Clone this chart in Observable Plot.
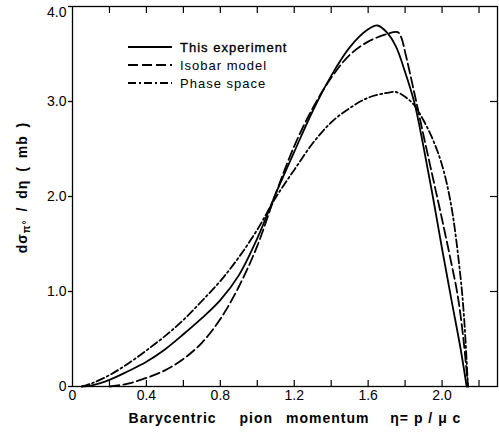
<!DOCTYPE html>
<html><head><meta charset="utf-8">
<script src="https://cdn.jsdelivr.net/npm/d3@7"></script>
<script src="https://cdn.jsdelivr.net/npm/@observablehq/plot@0.6"></script>
<style>
body{margin:0;background:#fff}
#wrap{position:relative;width:499px;height:434px;background:#fff}
#legend{position:absolute;left:0;top:0;pointer-events:none}
</style>
</head><body><div id="wrap"></div>
<script>
// ---- data ----
const seriesNames = ["This experiment", "Isobar model", "Phase space"];

const etaExp = [0.05,0.1,0.2,0.3,0.4,0.5,0.6,0.7,0.8,0.9,1.0,1.1,1.2,1.3,1.4,1.5,1.6,1.65,1.7,1.75,1.8,1.85,1.9,1.95,2.0,2.05,2.1,2.133];
const expVals = [0,0.01,0.07,0.16,0.26,0.39,0.55,0.72,0.91,1.17,1.56,2.03,2.47,2.90,3.27,3.57,3.76,3.80,3.73,3.58,3.31,2.99,2.52,2.0,1.45,0.92,0.40,0];

const etaIso = [0.2,0.3,0.4,0.5,0.6,0.7,0.8,0.9,1.0,1.1,1.2,1.3,1.4,1.5,1.6,1.7,1.76,1.78,1.8,1.85,1.9,1.95,2.0,2.05,2.08,2.1,2.12,2.14];
const isoVals = [0,0.03,0.09,0.17,0.29,0.46,0.71,1.05,1.48,2.03,2.53,2.93,3.25,3.49,3.63,3.71,3.73,3.67,3.52,3.09,2.64,2.2,1.76,1.3,1.01,0.75,0.42,0];

const etaPS = [0.05,0.1,0.2,0.3,0.4,0.5,0.6,0.7,0.8,0.9,1.0,1.1,1.2,1.3,1.4,1.5,1.6,1.7,1.75,1.8,1.85,1.9,1.95,2.0,2.05,2.1,2.12,2.14];
const psVals = [0,0.03,0.12,0.24,0.38,0.53,0.70,0.90,1.11,1.36,1.65,1.99,2.28,2.56,2.78,2.93,3.04,3.09,3.10,3.05,2.96,2.80,2.60,2.33,1.90,1.15,0.70,0];

const xLabelTicks = [0,0.4,0.8,1.2,1.6,2.0];
const xMinorTicks = [0.2,0.4,0.6,0.8,1.0,1.2,1.4,1.6,1.8,2.0,2.2];
const yTicks = [0,1,2,3];
const yTopTick = [4];
const yRightTicks = [1,2,3];
const xTitleWords = ["Barycentric", "pion", "momentum", "η= p / μ c"];
const yTitle = "dσπ° / dη ( mb )";

// ---- build table ----
const etas = [etaExp, etaIso, etaPS];
const vals = [expVals, isoVals, psVals];
const dashes = [null, "10,4", "8,3,2,3"];
const rows = seriesNames.flatMap((name, k) => etas[k].map((e, i) => ({series: name, eta: e, value: vals[k][i]})));

const fmt = d => d === 0 ? "0" : d.toFixed(1);
const font = "'Liberation Sans', 'DejaVu Sans', sans-serif";
const xTitle = xTitleWords.join(" ");

const lineMarks = seriesNames.map((name, k) =>
  Plot.line(rows.filter(r => r.series === name), {
    x: "eta", y: "value", curve: "catmull-rom",
    stroke: "black", strokeWidth: 1.8,
    strokeDasharray: dashes[k] || undefined
  })
);

const chart = Plot.plot({
  width: 499, height: 434,
  marginLeft: 72, marginRight: 2, marginTop: 6, marginBottom: 48,
  x: {domain: [0, 2.3]},
  y: {domain: [0, 4]},
  style: {fontFamily: font, fontSize: "14px", color: "black", background: "white"},
  marks: [
    Plot.frame({stroke: "black", strokeWidth: 1.3}),
    Plot.axisY({ticks: yTicks, tickSize: 4, tickPadding: 2, tickFormat: fmt, label: null, fontSize: 14, strokeWidth: 1.3}),
    Plot.axisY({ticks: yTopTick, tickSize: 4, tickPadding: 2, tickFormat: () => "", label: null, strokeWidth: 1.3}),
    Plot.axisY({ticks: yTopTick, tickSize: 0, tickPadding: 6, tickFormat: fmt, label: null, fontSize: 14, dy: 6}),
    Plot.axisX({ticks: xLabelTicks, tickSize: 0, tickPadding: 4, tickFormat: fmt, label: null, fontSize: 14}),
    Plot.tickX(xMinorTicks, {x: d => d, insetTop: 374, stroke: "black", strokeWidth: 1.2}),
    Plot.tickX(xMinorTicks, {x: d => d, insetBottom: 373, stroke: "black", strokeWidth: 1.2}),
    Plot.tickY(yRightTicks, {y: d => d, insetLeft: 418, stroke: "black", strokeWidth: 1.2}),
    ...lineMarks,
    Plot.text([xTitle], {frameAnchor: "bottom", dy: 36, dx: 10, textAnchor: "middle", fontWeight: "bold", fontSize: 14, fill: "black"}),
    Plot.text([yTitle], {frameAnchor: "left", dx: -50, dy: -9, rotate: -90, textAnchor: "middle", fontWeight: "bold", fontSize: 14, fill: "black"})
  ]
});

document.getElementById("wrap").appendChild(chart);

// post-style titles (text kept as real text, split into tspans)
const svg = d3.select(chart);
svg.selectAll("text").each(function() {
  const t = d3.select(this);
  const s = t.text();
  if (s === xTitle) {
    t.text(null).attr("letter-spacing", "1px").attr("text-anchor", "middle");
    const gaps = [0, 18, 8, 16];
    xTitleWords.forEach((w, i) => {
      t.append("tspan").attr("dx", gaps[i] || null).text((i ? " " : "") + w);
    });
  } else if (s === yTitle) {
    t.text(null).attr("letter-spacing", "1px").attr("word-spacing", "3px").attr("text-anchor", "middle");
    t.append("tspan").text("dσ");
    t.append("tspan").attr("font-size", "10px").attr("dy", "3").text("π°");
    t.append("tspan").attr("dy", "-3").text(" / dη ( mb )");
  }
});

// legend (inside plot area, top-left)
const lg = d3.select("#wrap").append("svg").attr("id", "legend").attr("width", 499).attr("height", 434);
const legendY = [47, 65, 83];
seriesNames.forEach((name, k) => {
  lg.append("line").attr("x1", 128).attr("x2", 172).attr("y1", legendY[k]).attr("y2", legendY[k])
    .attr("stroke", "black").attr("stroke-width", 1.8)
    .attr("stroke-dasharray", dashes[k] || null);
  lg.append("text").attr("x", 180).attr("y", legendY[k]).attr("dy", "0.35em")
    .attr("font-family", font).attr("font-size", 13)
    .attr("letter-spacing", "1px")
    .attr("stroke", k === 0 ? "black" : "none").attr("stroke-width", 0.35)
    .text(name);
});
</script>
</body></html>
